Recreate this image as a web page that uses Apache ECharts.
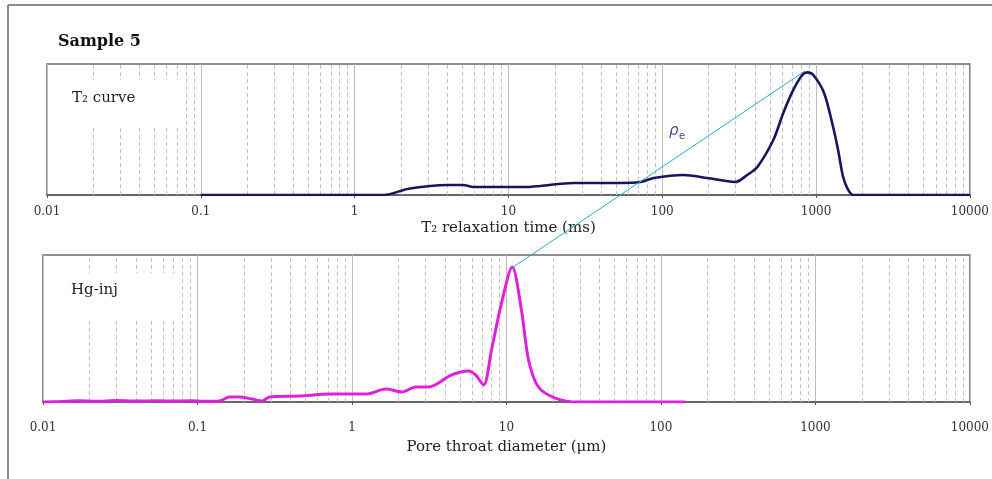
<!DOCTYPE html>
<html>
<head>
<meta charset="utf-8">
<script src="https://cdn.jsdelivr.net/npm/echarts@6/dist/echarts.min.js"></script>
<style>
html,body{margin:0;padding:0;background:#fff;}
#c{width:992px;height:479px;}
</style>
</head>
<body>
<div id="c"></div>
<script>
// ---- data ----
const tickLabels = ['0.01', '0.1', '1', '10', '100', '1000', '10000'];
const minorSteps = [2, 3, 4, 5, 6, 7, 8, 9];

const t2Time = [0.1, 1, 1.55, 2.2, 3.1, 4.0, 5.1, 5.9, 8.9, 13.3, 16.1, 26.5, 53.5, 72, 88, 137, 196, 298, 357, 415, 527, 612, 711, 813, 877, 959, 1127, 1290, 1390, 1499, 1615, 1738, 10000];
const t2Amp  = [0, 0, 0, 4.6, 6.9, 7.6, 7.6, 6.1, 6.1, 6.1, 6.9, 9.2, 9.2, 9.9, 13, 15.3, 13, 9.9, 15.3, 21.4, 42, 62.6, 80.2, 91.6, 93.6, 91.6, 77.9, 51.9, 34.4, 13.7, 4, 0, 0];

const poreDiam = [0.01, 0.013, 0.017, 0.022, 0.03, 0.04, 0.055, 0.07, 0.09, 0.11, 0.139, 0.161, 0.187, 0.226, 0.262, 0.292, 0.455, 0.743, 1.23, 1.66, 2.10, 2.59, 3.14, 4.42, 5.69, 6.31, 7.11, 8.0, 9.29, 10.9, 12.5, 13.9, 16.1, 20.7, 29.2, 143];
const hgAmp    = [0, 0.3, 0.8, 0.5, 1, 0.6, 0.9, 0.6, 0.9, 0.5, 0.7, 3.4, 3.4, 2.0, 0.7, 3.4, 4.1, 5.4, 5.4, 8.8, 6.8, 10.2, 10.2, 18.4, 21.1, 18.4, 11.6, 35.4, 67.3, 91.8, 62.6, 28.6, 10.2, 2.7, 0, 0];

// ---- helpers ----
const minorValues = [];
for (let e = -2; e < 4; e++) {
  minorSteps.forEach(s => minorValues.push(+(s * Math.pow(10, e)).toPrecision(3)));
}
const FONT = 'DejaVu Serif';
function fmt(v) {
  const i = Math.round(Math.log10(v)) + 2;
  return tickLabels[i] !== undefined ? tickLabels[i] : '';
}
function xAxisCfg(gridIndex, name, margin, nameGap) {
  return {
    type: 'log', logBase: 10, gridIndex: gridIndex,
    min: 0.01, max: 10000,
    name: name, nameLocation: 'middle', nameGap: nameGap,
    nameTextStyle: {fontFamily: FONT, fontSize: 15, color: '#222'},
    axisLine: {show: true, lineStyle: {color: '#5a5a5a', width: 1.5}},
    axisTick: {show: true, length: 3, lineStyle: {color: '#5a5a5a'}},
    axisLabel: {formatter: fmt, fontFamily: FONT, fontSize: 12, color: '#333', margin: margin, showMinLabel: true, showMaxLabel: true},
    splitLine: {show: true, lineStyle: {color: '#bdbdbd', width: 1, type: 'solid'}}
  };
}
function yAxisCfg(gridIndex) {
  return {
    type: 'value', gridIndex: gridIndex, min: 0, max: 100,
    show: true, axisLine: {show: false}, axisTick: {show: false},
    axisLabel: {show: false}, splitLine: {show: false}
  };
}
function minorSeries(idx) {
  return {
    type: 'line', xAxisIndex: idx, yAxisIndex: idx, data: [], z: 1, silent: true,
    markLine: {
      silent: true, symbol: 'none', z: 1, animation: false,
      label: {show: false},
      lineStyle: {color: '#c4c4c4', type: [4, 3], width: 1},
      data: minorValues.map(v => ({xAxis: v}))
    }
  };
}

const chart = echarts.init(document.getElementById('c'), null, {renderer: 'canvas'});

const baseGraphic = [
  {type: 'line', id: 'frameTop', shape: {x1: 8, y1: 5, x2: 992, y2: 5}, style: {stroke: '#8a8a8a', lineWidth: 2}, z: 20},
  {type: 'line', id: 'frameLeft', shape: {x1: 8, y1: 5, x2: 8, y2: 479}, style: {stroke: '#8a8a8a', lineWidth: 2}, z: 20},
  {type: 'text', id: 'title', left: 58, top: 34, style: {text: 'Sample 5', font: 'bold 16px "DejaVu Serif"', fill: '#111'}, z: 20},
  {type: 'rect', id: 'boxTop', shape: {x: 49, y: 80, width: 131, height: 48}, style: {fill: '#fff'}, z: 8},
  {type: 'rect', id: 'boxBot', shape: {x: 45, y: 273, width: 135, height: 45}, style: {fill: '#fff'}, z: 8},
  {type: 'text', id: 'lblTop', left: 72, top: 91, style: {text: 'T₂ curve', font: '15px "DejaVu Serif"', fill: '#222'}, z: 20},
  {type: 'text', id: 'lblBot', left: 71, top: 283, style: {text: 'Hg-inj', font: '15px "DejaVu Serif"', fill: '#222'}, z: 20},
  {type: 'text', id: 'rho', left: 669, top: 124, style: {text: 'ρ', font: 'italic 15px "DejaVu Sans"', fill: '#4b4b98'}, z: 20},
  {type: 'text', id: 'rhoSub', left: 679, top: 131, style: {text: 'e', font: '10px "DejaVu Sans"', fill: '#4b4b98'}, z: 20}
];

chart.setOption({
  animation: false,
  backgroundColor: '#fff',
  grid: [
    {left: 47, right: 22, top: 64, height: 131, show: true, borderColor: '#6a6a6a', borderWidth: 1.5, backgroundColor: 'transparent'},
    {left: 43, right: 19, top: 255, height: 147, show: true, borderColor: '#6a6a6a', borderWidth: 1.5, backgroundColor: 'transparent'}
  ],
  xAxis: [
    xAxisCfg(0, 'T₂ relaxation time (ms)', 11, 26),
    xAxisCfg(1, 'Pore throat diameter (μm)', 20, 38)
  ],
  yAxis: [yAxisCfg(0), yAxisCfg(1)],
  series: [
    minorSeries(0),
    minorSeries(1),
    {
      type: 'line', xAxisIndex: 0, yAxisIndex: 0, z: 10,
      data: t2Time.map((t, i) => [t, t2Amp[i]]),
      smooth: 0.3, showSymbol: false,
      lineStyle: {color: '#16165e', width: 2.6}
    },
    {
      type: 'line', xAxisIndex: 1, yAxisIndex: 1, z: 10,
      data: poreDiam.map((d, i) => [d, hgAmp[i]]),
      smooth: 0.3, showSymbol: false,
      lineStyle: {color: '#dd22dd', width: 3}
    }
  ],
  graphic: baseGraphic
});

// connecting line between the two peaks, positioned through the axes
const iTop = t2Amp.indexOf(Math.max(...t2Amp));
const iBot = hgAmp.indexOf(Math.max(...hgAmp));
const pTop = chart.convertToPixel({xAxisIndex: 0, yAxisIndex: 0}, [t2Time[iTop], t2Amp[iTop]]);
const pBot = chart.convertToPixel({xAxisIndex: 1, yAxisIndex: 1}, [poreDiam[iBot], hgAmp[iBot]]);
chart.setOption({
  graphic: baseGraphic.concat([
    {type: 'line', id: 'link', shape: {x1: pTop[0] - 3, y1: pTop[1] - 1, x2: pBot[0] + 1, y2: pBot[1]}, style: {stroke: '#3aa3c8', lineWidth: 1}, z: 15}
  ])
});
</script>
</body>
</html>
